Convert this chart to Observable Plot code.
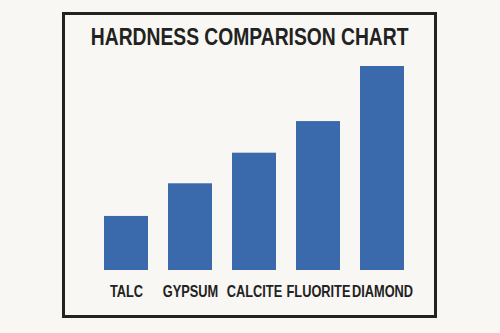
<!DOCTYPE html>
<html>
<head>
<meta charset="utf-8">
<script src="https://cdn.jsdelivr.net/npm/d3@7"></script>
<script src="https://cdn.jsdelivr.net/npm/@observablehq/plot@0.6"></script>
<style>
  html, body { margin: 0; padding: 0; background: #f8f7f3; }
  body {
    width: 500px; height: 333px; position: relative; overflow: hidden;
    font-family: "Liberation Sans", Arial, sans-serif;
  }
  .card {
    position: absolute; left: 62px; top: 12px;
    width: 369px; height: 300px;
    border: 3px solid #222;
  }
  .card h1 {
    position: absolute; left: -60px; right: -60px; top: 11px; margin: 0;
    text-align: center; font-size: 23.5px; line-height: 1;
    font-weight: bold; color: #222; white-space: nowrap;
  }
  /* narrow the bold grotesque into a condensed face */
  .card h1 span { display: inline-block; transform: scaleX(0.82); transform-origin: 50% 50%; }
  #chart { position: absolute; left: 0; top: 40px; }
</style>
</head>
<body>
<div class="card">
  <h1><span>HARDNESS COMPARISON CHART</span></h1>
  <div id="chart"></div>
</div>
<script>
// Minerals and their relative hardness
const minerals = ["TALC", "GYPSUM", "CALCITE", "FLUORITE", "DIAMOND"];
const hardness = [2.65, 4.25, 5.75, 7.3, 10];

const data = minerals.map((mineral, i) => ({mineral, hardness: hardness[i]}));

const chart = Plot.plot({
  width: 369,
  height: 260,
  marginTop: 11,
  marginBottom: 45,
  marginLeft: 16.3,
  marginRight: 8.5,
  style: {
    background: "transparent",
    fontFamily: "'Liberation Sans', Arial, sans-serif",
    fontSize: "16px",
    fontWeight: "bold",
    color: "#222"
  },
  x: {domain: minerals, padding: 0.32, label: null},
  y: {domain: [0, 10], axis: null},
  marks: [
    Plot.barY(data, {x: "mineral", y: "hardness", fill: "#3a69ac"}),
    Plot.axisX({tickSize: 0, tickPadding: 15, label: null, fontSize: 16, fontWeight: "bold", fill: "#222"})
  ]
});

// condense the category labels horizontally around their anchors
chart.querySelectorAll("g[aria-label='x-axis tick label'] text").forEach((t) => {
  let tr = t.getAttribute("transform");
  if (!tr) {
    const x = t.getAttribute("x") || 0, y = t.getAttribute("y") || 0;
    t.removeAttribute("x"); t.removeAttribute("y");
    tr = `translate(${x},${y})`;
  }
  t.setAttribute("transform", tr + " scale(0.8,1)");
});

document.getElementById("chart").appendChild(chart);
</script>
</body>
</html>
